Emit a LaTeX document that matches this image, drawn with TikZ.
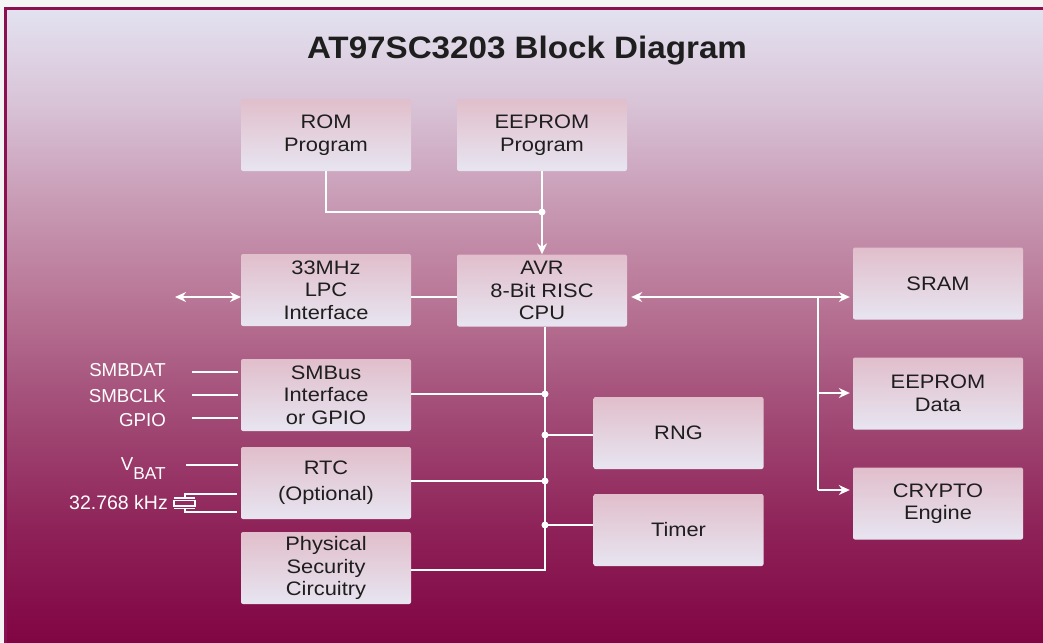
\documentclass[tikz,border=0pt]{standalone}
\usepackage{fontspec}
\setmainfont{Liberation Sans}
\newfontfamily\boxfont[FakeStretch=1.12]{Liberation Sans}
\newfontfamily\titlefont[FakeStretch=1.07]{Liberation Sans}
\usetikzlibrary{arrows.meta}
\definecolor{g0}{HTML}{E3E2F0}
\definecolor{g1}{HTML}{D8C2D6}
\definecolor{g2}{HTML}{C89AB4}
\definecolor{g3}{HTML}{B87595}
\definecolor{g4}{HTML}{A4507A}
\definecolor{g5}{HTML}{8E2258}
\definecolor{g6}{HTML}{7E0040}
\definecolor{bxt}{HTML}{E1BECB}
\definecolor{bxb}{HTML}{E7E5F1}
\definecolor{txt}{HTML}{1E1E1E}
\definecolor{frame}{HTML}{8A1050}
\definecolor{outer}{HTML}{F4F4F4}
\pgfdeclareverticalshading{bgshade}{100bp}{color(0bp)=(g6); color(25bp)=(g6); color(35bp)=(g5); color(45bp)=(g4); color(52.5bp)=(g3); color(60bp)=(g2); color(67.5bp)=(g1); color(75bp)=(g0); color(100bp)=(g0)}
\tikzset{
  blk/.style={rounded corners=2pt, top color=bxt, bottom color=bxb, draw=none,
    minimum width=170pt, minimum height=72pt, align=center,
    font=\boxfont\fontsize{19.5}{22.5}\selectfont, text=txt, inner sep=0pt},
  wire/.style={draw=white, line width=1.6pt},
  arr/.style={-{Stealth[length=11pt,width=10pt]}},
  darr/.style={{Stealth[length=11pt,width=10pt]}-{Stealth[length=11pt,width=10pt]}},
  dot/.style={circle, fill=white, inner sep=0pt, minimum size=7pt},
  lbl/.style={text=white, font=\fontsize{18.7}{20}\selectfont, inner sep=0pt, anchor=east},
  xtal/.style={draw=white, line width=1.2pt}
}
\begin{document}
\begin{tikzpicture}[x=1pt,y=-1pt]
\useasboundingbox (0,0) rectangle (1043,642);
\fill[outer] (0,0) rectangle (1043,642);
\shade[shading=bgshade, draw=frame, line width=2.5pt] (5.5,8.5) rectangle (1060,660);

\node[text=txt, font=\titlefont\fontsize{31}{34}\selectfont\bfseries] (title) at (527,51) {AT97SC3203 Block Diagram};

\node[blk] (rom) at (326,135) {ROM\\Program};
\node[blk] (eepp) at (542,135) {EEPROM\\Program};
\node[blk] (lpc) at (326,290) {33MHz\\LPC\\Interface};
\node[blk] (cpu) at (542,290.5) {AVR\\8-Bit RISC\\CPU};
\node[blk] (sram) at (938,283.5) {SRAM};
\node[blk] (smb) at (326,395) {SMBus\\Interface\\or GPIO};
\node[blk] (rng) at (678.5,433) {RNG};
\node[blk] (eepd) at (938,393.5) {EEPROM\\Data};
\node[blk] (rtc) at (326,483) {\raisebox{-2.5pt}{\begin{tabular}{@{}c@{}}RTC\\[4pt](Optional)\end{tabular}}};
\node[blk] (tmr) at (678.5,530) {Timer};
\node[blk] (cry) at (938,503.5) {CRYPTO\\Engine};
\node[blk] (phy) at (326,568) {Physical\\Security\\Circuitry};

% top bus
\coordinate (j1) at (542,212);
\draw[wire] (rom.south) |- (j1);
\draw[wire,arr] (eepp.south) -- (cpu.north);
\node[dot] at (j1) {};

% LPC
\coordinate (lpcl) at (175,297);
\coordinate (lpcr) at (241,297);
\draw[wire,darr] (lpcl) -- (lpcr);
\draw[wire] (lpc.east |- lpcr) -- (cpu.west |- lpcr);

% right bus
\coordinate (rb) at (818,297);
\coordinate (rb1) at (818,393);
\coordinate (rb2) at (818,490);
\draw[wire,darr,shorten <=4pt,shorten >=3pt] (cpu.east |- rb) -- (sram.west |- rb);
\draw[wire] (rb) -- (rb2);
\draw[wire,arr,shorten >=3pt] (rb1) -- (eepd.west |- rb1);
\draw[wire,arr,shorten >=3pt] (rb2) -- (cry.west |- rb2);

% lower bus
\coordinate (b0) at (545,327);
\coordinate (b1) at (545,394);
\coordinate (b2) at (545,435);
\coordinate (b3) at (545,481);
\coordinate (b4) at (545,525);
\coordinate (b5) at (545,570);
\draw[wire] (b0) -- (b5) -- (phy.east |- b5);
\draw[wire] (smb.east |- b1) -- (b1);
\draw[wire] (b2) -- (rng.west |- b2);
\draw[wire] (rtc.east |- b3) -- (b3);
\draw[wire] (b4) -- (tmr.west |- b4);
\foreach \p in {b1,b2,b3,b4} \node[dot] at (\p) {};

% left signals
\coordinate (s1) at (192,372);
\coordinate (s2) at (192,395);
\coordinate (s3) at (192,418);
\coordinate (s4) at (186,465);
\foreach \p in {s1,s2,s3} \draw[wire,line width=1.3pt] (\p) -- ([xshift=-3pt]smb.west |- \p);
\draw[wire,line width=1.3pt] (s4) -- ([xshift=-3pt]rtc.west |- s4);
\node[lbl] (lsd) at (166,370) {SMBDAT};
\node[lbl] (lsc) at (166,396) {SMBCLK};
\node[lbl] (lgp) at (166,420) {GPIO};
\node[lbl, anchor=base east] (lvb) at (166,470) {V\raisebox{-9pt}{\fontsize{17.3}{18}\selectfont BAT}};
\node[lbl, font=\fontsize{19.5}{20}\selectfont] (lxt) at (168,503) {32.768 kHz};

% crystal
\coordinate (x1) at (185,494);
\coordinate (x2) at (185,512);
\draw[xtal] ([xshift=-4pt]rtc.west |- x1) -- (x1) -- (185,498);
\draw[xtal] (174,498) -- (195,498);
\draw[xtal] (174,500.5) rectangle (195,506);
\draw[xtal] (174,508.5) -- (195,508.5);
\draw[xtal] (185,508.5) -- (x2) -- ([xshift=-4pt]rtc.west |- x2);
\end{tikzpicture}
\end{document}
